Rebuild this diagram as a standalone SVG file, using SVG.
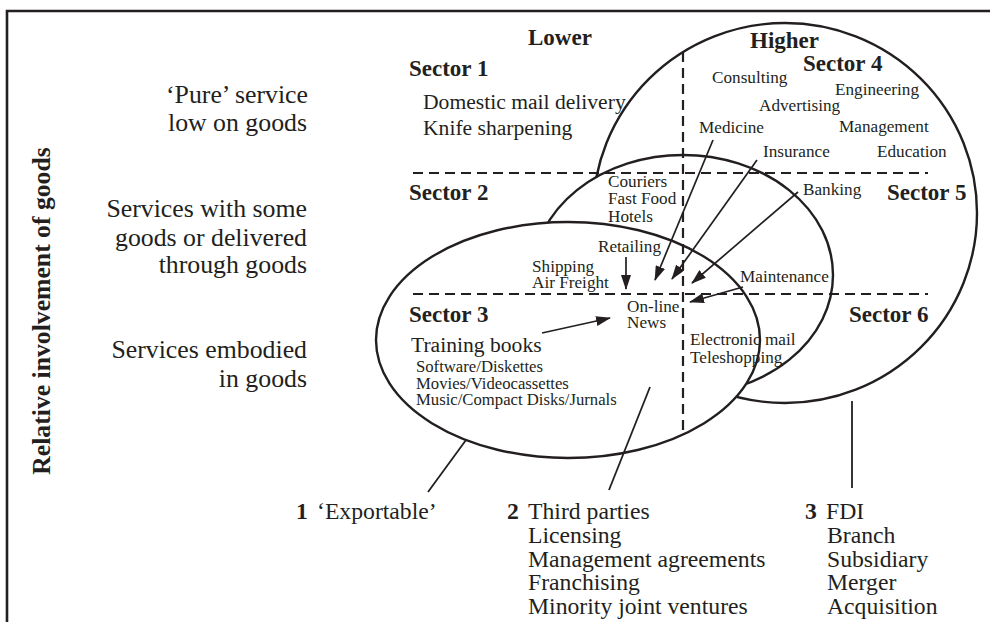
<svg xmlns="http://www.w3.org/2000/svg" width="990" height="622" viewBox="0 0 990 622">
<style>
text{font-family:"Liberation Serif","Times New Roman",serif;fill:#231f20}
.b{font-weight:bold;font-size:23px}
.row{font-size:25.8px;text-anchor:end}
.m{font-size:21.6px}
.s{font-size:17.2px}
.sm{font-size:16.7px}
.bt{font-size:23.7px}
.bb{font-size:23.7px;font-weight:bold}
.shape{fill:#fff;stroke:#231f20;stroke-width:2.4}
.dash{fill:none;stroke:#231f20;stroke-width:2.2;stroke-dasharray:10 6}
.arr{fill:none;stroke:#231f20;stroke-width:1.7;marker-end:url(#ah)}
.ln{fill:none;stroke:#231f20;stroke-width:1.8}
</style>
<defs>
<marker id="ah" markerUnits="userSpaceOnUse" markerWidth="15" markerHeight="10" refX="14" refY="5" orient="auto">
<path d="M0,0 L15,5 L0,10 z" fill="#231f20"/>
</marker>
</defs>
<rect width="990" height="622" fill="#fff"/>
<path d="M7,622 V11 H990" fill="none" stroke="#231f20" stroke-width="2.6"/>

<g id="shapes">
<ellipse id="fdi-circle" class="shape" cx="785" cy="213" rx="192" ry="190"/>
<ellipse id="thirdparty-ellipse" class="shape" cx="683" cy="275" rx="150" ry="120"/>
<ellipse id="exportable-ellipse" class="shape" cx="568" cy="340" rx="192" ry="118"/>
</g>

<g id="grid">
<line class="dash" x1="413" y1="173" x2="928" y2="173"/>
<line class="dash" x1="413" y1="294" x2="928" y2="294"/>
<line class="dash" x1="683" y1="52" x2="683" y2="432"/>
</g>

<g id="axis">
<text class="b" x="0" y="0" text-anchor="middle" style="font-size:25.7px" transform="translate(50,311) rotate(-90)">Relative involvement of goods</text>
<text class="b" x="528" y="45">Lower</text>
<text class="b" x="750" y="48">Higher</text>
</g>

<g id="rows">
<text class="row" x="308" y="103">‘Pure’ service</text>
<text class="row" x="307" y="131">low on goods</text>
<text class="row" x="307" y="217">Services with some</text>
<text class="row" x="307" y="246">goods or delivered</text>
<text class="row" x="307" y="273">through goods</text>
<text class="row" x="307" y="358">Services embodied</text>
<text class="row" x="307" y="387">in goods</text>
</g>

<g id="sector1">
<text class="b" x="409" y="76">Sector 1</text>
<text class="m" x="423" y="109">Domestic mail delivery</text>
<text class="m" x="423" y="135">Knife sharpening</text>
</g>

<g id="sector4">
<text class="b" x="803" y="71">Sector 4</text>
<text class="s" x="712" y="83">Consulting</text>
<text class="s" x="835" y="95">Engineering</text>
<text class="s" x="759" y="111">Advertising</text>
<text class="s" x="699" y="133">Medicine</text>
<text class="s" x="839" y="132">Management</text>
<text class="s" x="763" y="157">Insurance</text>
<text class="s" x="877" y="157">Education</text>
</g>

<g id="sector2">
<text class="b" x="409" y="200">Sector 2</text>
<text class="s" x="608" y="187">Couriers</text>
<text class="s" x="608" y="204">Fast Food</text>
<text class="s" x="608" y="222">Hotels</text>
<text class="s" x="598" y="252">Retailing</text>
<text class="s" x="532" y="272">Shipping</text>
<text class="s" x="532" y="288">Air Freight</text>
</g>

<g id="sector5">
<text class="b" x="887" y="200">Sector 5</text>
<text class="s" x="803" y="195">Banking</text>
<text class="s" x="740" y="282">Maintenance</text>
</g>

<g id="sector3">
<text class="b" x="409" y="322">Sector 3</text>
<text class="s" x="627" y="312">On-line</text>
<text class="s" x="627" y="328">News</text>
<text class="m" x="411" y="352">Training books</text>
<text class="sm" x="416" y="372">Software/Diskettes</text>
<text class="sm" x="416" y="389">Movies/Videocassettes</text>
<text class="sm" x="416" y="405">Music/Compact Disks/Jurnals</text>
</g>

<g id="sector6">
<text class="b" x="849" y="322">Sector 6</text>
<text class="s" x="690" y="345">Electronic mail</text>
<text class="s" x="690" y="363">Teleshopping</text>
</g>

<g id="mode1">
<text class="bb" x="296" y="519">1</text>
<text class="bt" x="317" y="519">‘Exportable’</text>
</g>

<g id="mode2">
<text class="bb" x="507" y="519">2</text>
<text class="bt" x="528" y="519">Third parties</text>
<text class="bt" x="528" y="543">Licensing</text>
<text class="bt" x="528" y="567">Management agreements</text>
<text class="bt" x="528" y="590">Franchising</text>
<text class="bt" x="528" y="614">Minority joint ventures</text>
</g>

<g id="mode3">
<text class="bb" x="805" y="519">3</text>
<text class="bt" x="826" y="519">FDI</text>
<text class="bt" x="827" y="543">Branch</text>
<text class="bt" x="827" y="567">Subsidiary</text>
<text class="bt" x="827" y="590">Merger</text>
<text class="bt" x="827" y="614">Acquisition</text>
</g>

<g id="connectors">
<line class="arr" x1="713" y1="140" x2="655" y2="280"/>
<line class="arr" x1="757" y1="160" x2="672" y2="279"/>
<line class="arr" x1="798" y1="192" x2="692" y2="283"/>
<line class="arr" x1="743" y1="287" x2="690" y2="302"/>
<line class="arr" x1="542" y1="333" x2="610" y2="318"/>
<line class="arr" x1="626" y1="257" x2="626" y2="289"/>
<line class="ln" x1="466" y1="440" x2="428" y2="492"/>
<line class="ln" x1="650" y1="387" x2="609" y2="490"/>
<line class="ln" x1="852" y1="401" x2="852" y2="488"/>
</g>
</svg>
